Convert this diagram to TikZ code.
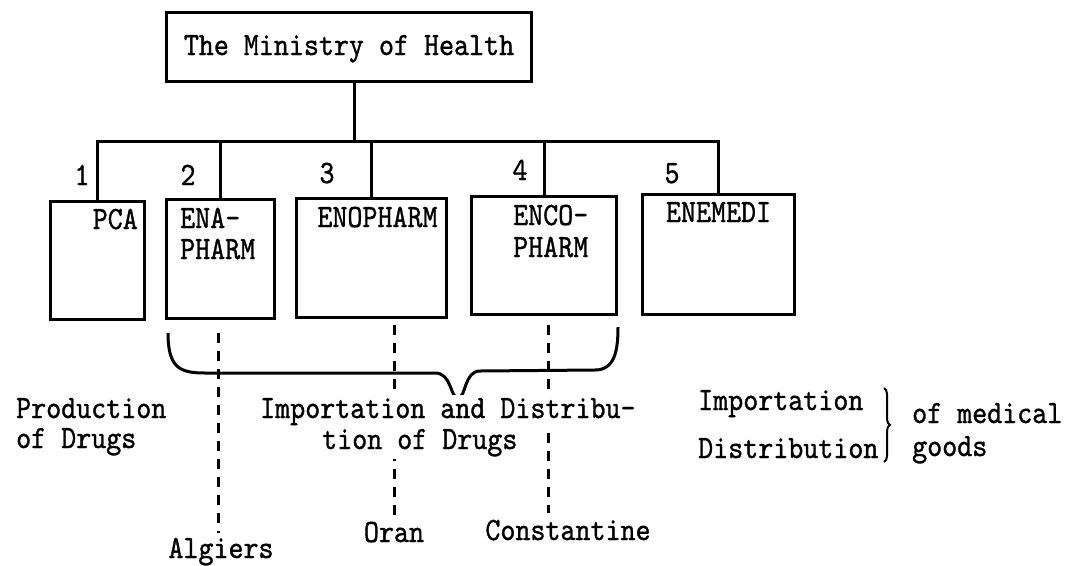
\documentclass[tikz,border=0pt]{standalone}
\usepackage{fontspec}
\newfontfamily\typefont{lmmono10-regular.otf}[FakeStretch=0.88,FakeBold=1]
\usetikzlibrary{decorations.pathreplacing}
\begin{document}
\begin{tikzpicture}[x=1pt,y=-1pt]
    \tikzstyle{agency}=[draw=black,line width=3pt,rectangle,inner sep=0pt,anchor=north west]
    \tikzstyle{typed}=[font=\fontsize{32.5}{34}\typefont,inner sep=0pt]
    \tikzstyle{bar}=[line width=3pt]
    \tikzstyle{citylink}=[line width=2.5pt,dash pattern=on 10pt off 8pt]
    \useasboundingbox (0,0) rectangle (1075,565);

    \node[agency, minimum width=365pt, minimum height=69pt] (min) at (165,11) {};
    \node[typed, anchor=base] (mint) at ([yshift=-44pt]min.north) {The Ministry of Health};

    % the five units
    \node[agency, minimum width=94pt, minimum height=118pt] (pca) at (49,200) {};
    \node[agency, minimum width=108pt, minimum height=119pt] (ena) at (165,198) {};
    \node[agency, minimum width=150pt, minimum height=119pt] (eno) at (295,197) {};
    \node[agency, minimum width=145pt, minimum height=118pt] (enco) at (470,195) {};
    \node[agency, minimum width=152pt, minimum height=120pt] (emed) at (641,193) {};

    \node[typed, anchor=base east] (pcat) at ([xshift=-8pt,yshift=-29pt]pca.north east) {PCA};
    \node[typed, anchor=base west] (enat) at ([xshift=15pt,yshift=-30pt]ena.north west) {ENA-};
    \node[typed, anchor=base west] (enab) at ([xshift=15pt,yshift=-61pt]ena.north west) {PHARM};
    \node[typed, anchor=base] (enot) at ([xshift=6pt,yshift=-30pt]eno.north) {ENOPHARM};
    \node[typed, anchor=base west] (encot) at ([xshift=43pt,yshift=-30pt]enco.north west) {ENCO-};
    \node[typed, anchor=base west] (encob) at ([xshift=43pt,yshift=-62pt]enco.north west) {PHARM};
    \node[typed, anchor=base] (emedt) at ([yshift=-29pt]emed.north) {ENEMEDI};

    % numbers
    \node[typed, anchor=base] (k1) at (82,185) {1};
    \node[typed, anchor=base] (k2) at (188,185) {2};
    \node[typed, anchor=base] (k3) at (327,183) {3};
    \node[typed, anchor=base] (k4) at (520,180) {4};
    \node[typed, anchor=base] (k5) at (672,183) {5};

    % tree
    \coordinate (bus) at ([xshift=5pt,yshift=-58pt]min.south);
    \draw[bar] (bus |- min.south) -- (bus);
    \foreach \b in {pca,ena,eno,enco,emed}
        \draw[bar] (\b.north) |- (bus);

    % cities
    \node[typed, anchor=base] (alg) at (221,558) {Algiers};
    \node[typed, anchor=base] (oran) at (394,542) {Oran};
    \node[typed, anchor=base] (con) at (568,540) {Constantine};

    \draw[citylink, shorten >=5pt] ([xshift=-2pt,yshift=-13pt]ena.south) -- ([xshift=-2pt]ena.south |- alg.north);
    \draw[citylink] ([xshift=23pt,yshift=-6pt]eno.south) -- ([xshift=23pt]eno.south |- oran.north);
    \draw[citylink, shorten >=7pt] ([xshift=4.5pt,yshift=-9pt]enco.south) -- ([xshift=4.5pt]enco.south |- con.north);

    % brace under units 2-4
    \draw[line width=3pt] (168,333) .. controls (168,368) and (180,373) .. (205,373) -- (435,373)
        .. controls (452,373) and (450,398) .. (458,398) .. controls (466,398) and (464,371) .. (480,371)
        -- (595,370) .. controls (615,370) and (618,350) .. (618,327);

    % functions
    \node[typed, anchor=base west] (prod1) at (16,418) {Production};
    \node[typed, anchor=base west] (prod2) at (16,448) {of Drugs};
    \node[typed, anchor=base west, fill=white, inner ysep=3pt, inner xsep=2pt] (imp1) at (258,418) {Importation and Distribu-};
    \node[typed, anchor=base west, fill=white, inner ysep=3pt, inner xsep=2pt] (imp2) at (320,449) {tion of Drugs};

    \node[typed, anchor=base west] (med1) at (698,410) {Importation};
    \node[typed, anchor=base west] (med2) at (698,458) {Distribution};
    \draw[line width=2pt, decorate, decoration={brace, amplitude=6pt}] (884,388) -- (884,462);
    \node[typed, anchor=base west] (med3) at (912,423) {of medical};
    \node[typed, anchor=base west] (med4) at (912,456) {goods};
\end{tikzpicture}
\end{document}
